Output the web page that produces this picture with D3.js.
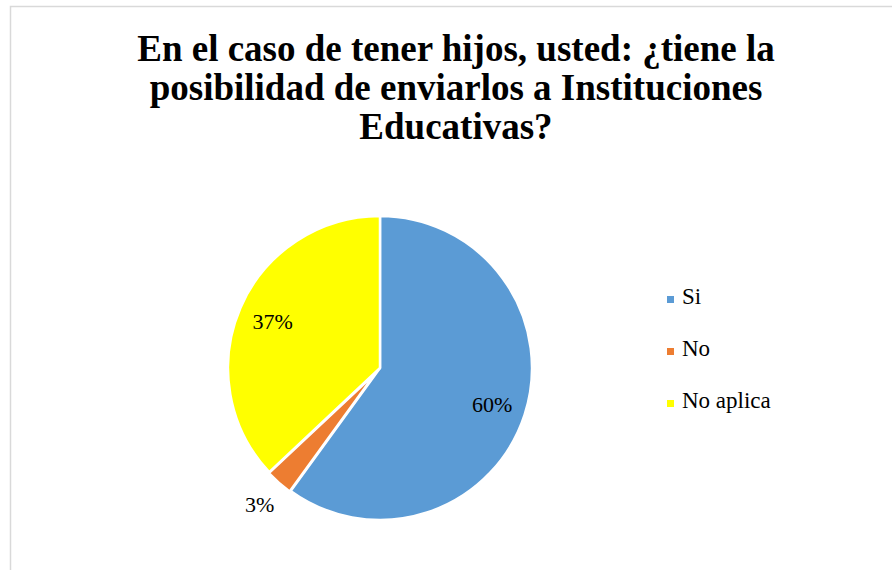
<!DOCTYPE html>
<html><head><meta charset="utf-8">
<script src="https://cdn.jsdelivr.net/npm/d3@7"></script>
<style>html,body{margin:0;padding:0;background:#fff;overflow:hidden}
text{font-family:"Liberation Serif","Times New Roman",Times,"DejaVu Serif",serif}</style>
</head><body>
<svg id="c" width="892" height="570"></svg>
<script>
const categories = ["Si", "No", "No aplica"];
const values = [60, 3, 37];
const labels = ["60%", "3%", "37%"];
const colors = ["#5B9BD5", "#ED7D31", "#FFFF00"];
const titleLines = ["En el caso de tener hijos, usted: ¿tiene la", "posibilidad de enviarlos a Instituciones", "Educativas?"];

const svg = d3.select("#c");
svg.append("rect").attr("x", 10.5).attr("y", 6.5).attr("width", 900).attr("height", 600)
  .attr("fill", "#fff").attr("stroke", "#d9d9d9").attr("stroke-width", 1.5);

svg.append("text").attr("font-weight", "bold").attr("font-size", 37)
  .attr("text-anchor", "middle").attr("fill", "#000")
  .selectAll("tspan").data(titleLines).join("tspan")
  .attr("x", 456).attr("y", (d, i) => 61 + i * 39).text(d => d);

const cx = 380, cy = 368, r = 152;
const pie = d3.pie().sort(null).value(d => d)(values);
const g = svg.append("g").attr("transform", `translate(${cx},${cy})`);
const arc = d3.arc().innerRadius(0).outerRadius(r);
const arcSmall = d3.arc().innerRadius(0).outerRadius(r - 5);
const explode = [0, 6, 0];

g.selectAll("path").data(pie).join("path")
  .attr("d", (d, i) => explode[i] ? arcSmall(d) : arc(d))
  .attr("transform", (d, i) => {
    const a = (d.startAngle + d.endAngle) / 2;
    return `translate(${explode[i] * Math.sin(a)},${-explode[i] * Math.cos(a)})`;
  })
  .attr("fill", (d, i) => colors[i])
  .attr("stroke", "#fff").attr("stroke-width", 2.5).attr("stroke-linejoin", "round");

const labelR = [118, 182, 117];
g.selectAll("text.lbl").data(pie).join("text").attr("class", "lbl")
  .attr("font-size", 22).attr("text-anchor", "middle").attr("fill", "#000")
  .attr("x", (d, i) => labelR[i] * Math.sin((d.startAngle + d.endAngle) / 2))
  .attr("y", (d, i) => -labelR[i] * Math.cos((d.startAngle + d.endAngle) / 2) + 7.5)
  .text((d, i) => labels[i]);

const leg = svg.append("g");
categories.forEach((c, i) => {
  const y = 304 + i * 52;
  leg.append("rect").attr("x", 667).attr("y", y - 8).attr("width", 7).attr("height", 7).attr("fill", colors[i]);
  leg.append("text").attr("x", 682).attr("y", y).attr("font-size", 23)
    .attr("fill", "#000").text(c);
});
</script>
</body></html>
